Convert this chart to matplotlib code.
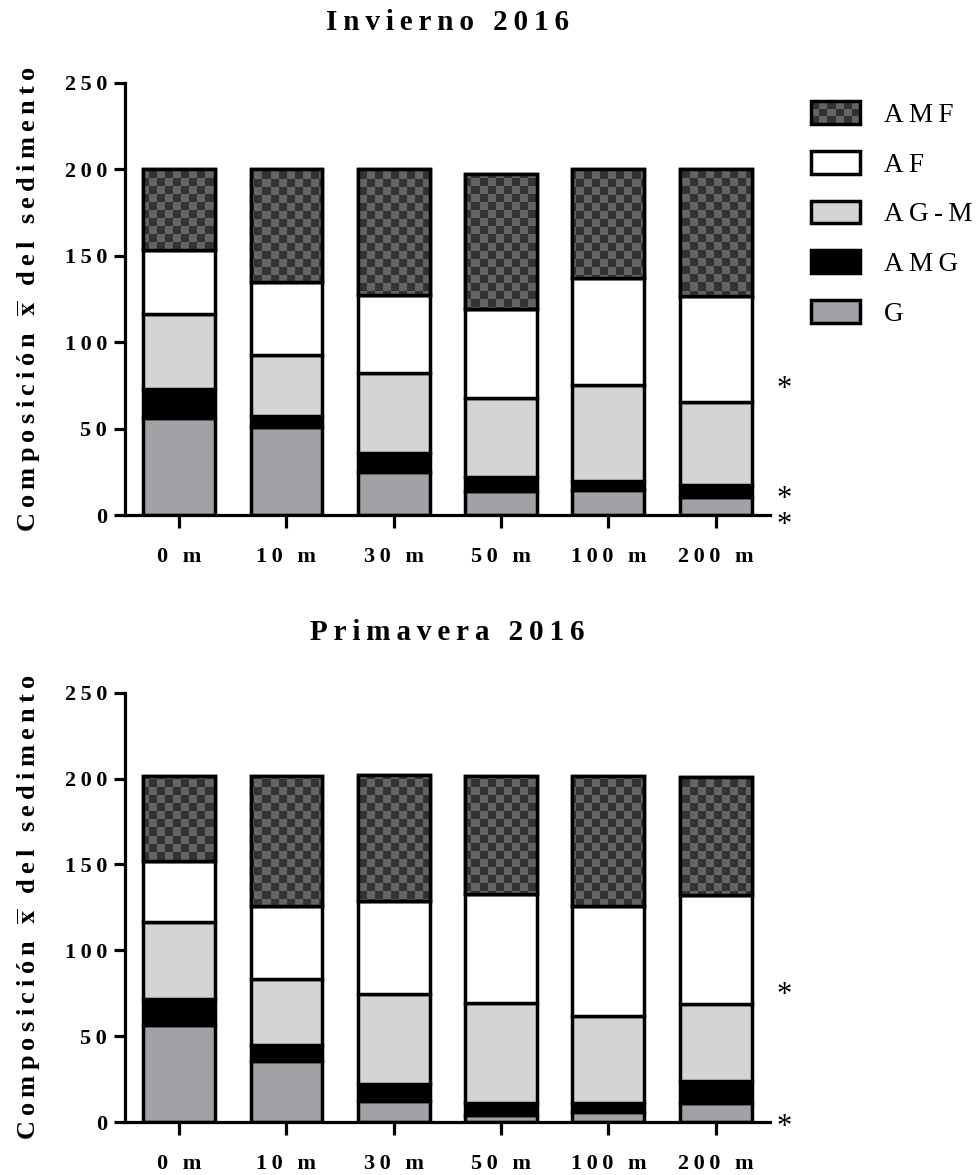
import numpy as np
import matplotlib
matplotlib.use("Agg")
import matplotlib.pyplot as plt
from matplotlib.colors import ListedColormap
from matplotlib.patches import Patch, Rectangle
from matplotlib.legend_handler import HandlerBase

plt.rcParams['font.family'] = ['Liberation Serif', 'DejaVu Serif']
plt.rcParams['mathtext.fontset'] = 'stix'

# datos (composicion media del sedimento)
stations = ['0 m', '10 m', '30 m', '50 m', '100 m', '200 m']
y_ticks = [0, 50, 100, 150, 200, 250]

winter_G = [56, 51, 25, 14, 14.5, 10.5]
winter_AMG = [17, 6.5, 11, 8, 5, 7]
winter_AGM = [43, 35, 46, 45.5, 55.5, 48]
winter_AF = [37, 42.5, 45.5, 51.5, 62, 61]
winter_AMF = [47, 65, 72.5, 78, 63, 73.5]

spring_G = [56.5, 35.5, 12.5, 4, 6, 11]
spring_AMG = [15, 9.5, 9.5, 7, 5, 13]
spring_AGM = [45, 38.5, 52.5, 58.5, 50.5, 45]
spring_AF = [35.5, 42, 54, 63, 64, 63]
spring_AMF = [49.5, 76, 73.5, 69, 76, 69]

# asteriscos: altura (del mas bajo) y cantidad apilada de cada marca
winter_stars = [77, -1.5]
winter_star_count = [1, 2]
spring_stars = [78, 1.5]
spring_star_count = [1, 1]

labels = ['G', 'AMG', 'AG-M', 'AF', 'AMF']
colors = ['#a2a1a6', '#000000', '#d4d4d4', '#ffffff', '#333333']
checker_light = '#646464'

TS = '\u2009'
GAP = TS + ' ' + TS


def spaced(s):
    # imita el espaciado de letras del original
    return GAP.join(TS.join(w) for w in s.split(' '))


class CheckerHandler(HandlerBase):
    def create_artists(self, legend, orig_handle, xdescent, ydescent,
                       width, height, fontsize, trans):
        arts = []
        nx, ny = 6, 3
        for i in range(nx):
            for j in range(ny):
                c = colors[4] if (i + j) % 2 == 0 else checker_light
                arts.append(Rectangle((-xdescent + i * width / nx, -ydescent + j * height / ny),
                                      width / nx, height / ny, facecolor=c,
                                      edgecolor='none', transform=trans))
        arts.append(Rectangle((-xdescent, -ydescent), width, height, facecolor='none',
                              edgecolor='black', linewidth=2.5, transform=trans))
        return arts


fig = plt.figure(figsize=(9.77, 11.75), dpi=100)
ax1 = fig.add_axes([0.1279, 0.5617, 0.6602, 0.3679])
ax2 = fig.add_axes([0.1279, 0.0451, 0.6602, 0.3654])

x = np.arange(len(stations))
width = 0.67
xlim = (-0.505, 5.505)
ylim = (0, 250)

panels = [
    (ax1, 'Invierno 2016', [winter_G, winter_AMG, winter_AGM, winter_AF, winter_AMF],
     winter_stars, winter_star_count),
    (ax2, 'Primavera 2016', [spring_G, spring_AMG, spring_AGM, spring_AF, spring_AMF],
     spring_stars, spring_star_count),
]

for ax, title, series, stars, counts in panels:
    bottom = np.zeros(len(x))
    for k, vals in enumerate(series):
        vals = np.array(vals, dtype=float)
        bars = ax.bar(x, vals, width, bottom=bottom, color=colors[k],
                      edgecolor='black', linewidth=2.5, zorder=2)
        if labels[k] == 'AMF':
            # textura de tablero de ajedrez recortada a cada barra
            ny, nx = 54, 80
            board = np.indices((ny, nx)).sum(axis=0) % 2
            for b in bars:
                im = ax.imshow(board, cmap=ListedColormap([colors[4], checker_light]),
                               extent=(xlim[0], xlim[1], ylim[0], ylim[1]),
                               aspect='auto', interpolation='nearest', zorder=2.1)
                im.set_clip_path(b)
            ax.bar(x, vals, width, bottom=bottom, fill=False,
                   edgecolor='black', linewidth=2.5, zorder=3)
        bottom = bottom + vals

    ax.set_xlim(*xlim)
    ax.set_ylim(*ylim)
    for side in ['top', 'right']:
        ax.spines[side].set_visible(False)
    for side in ['left', 'bottom']:
        ax.spines[side].set_linewidth(2.3)

    ax.set_xticks(x)
    ax.set_xticklabels([spaced(s) for s in stations], fontsize=16, fontweight='bold')
    ax.set_yticks(y_ticks)
    ax.set_yticklabels([spaced(str(v)) for v in y_ticks], fontsize=16, fontweight='bold')
    ax.tick_params(axis='x', length=9, width=2.3, pad=14)
    ax.tick_params(axis='y', length=8, width=2.3, pad=5)

    ax.set_ylabel(spaced('Composición') + GAP + r'$\mathbf{\overline{x}}$' + GAP
                  + spaced('del sedimento'), fontsize=19, fontweight='bold')
    ax.yaxis.set_label_coords(-0.127, 0.5)

    ax.text(0.5, 1.14, spaced(title), transform=ax.transAxes, ha='center', va='center',
            fontsize=21, fontweight='bold')

    for sy, n in zip(stars, counts):
        ax.annotate('\n'.join(['*'] * n), xy=(5.64, sy), xytext=(0, -11),
                    textcoords='offset points', ha='center', va='baseline',
                    fontsize=22, linespacing=0.86, annotation_clip=False)

amf_handle = Patch(label=spaced('AMF'))
handles = [amf_handle]
for k in [3, 2, 1, 0]:
    handles.append(Patch(facecolor=colors[k], edgecolor='black', linewidth=2.5,
                         label=spaced(labels[k])))

fig.legend(handles=handles, loc='upper left', bbox_to_anchor=(811 / 977, 1 - 101 / 1175),
           frameon=False, borderpad=0, borderaxespad=0, fontsize=19.5,
           handlelength=1.81, handleheight=0.92, labelspacing=0.85, handletextpad=0.89,
           handler_map={amf_handle: CheckerHandler()})

fig.savefig('out.png', dpi=100)
